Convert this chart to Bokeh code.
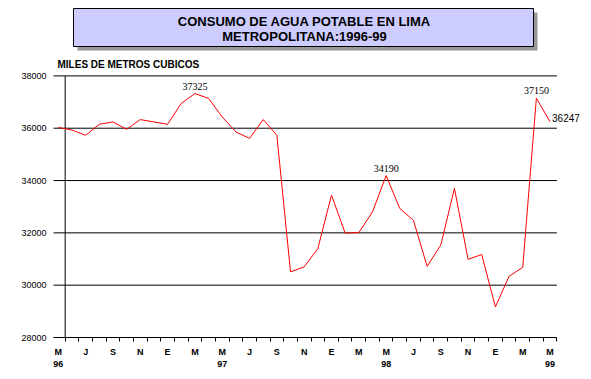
from bokeh.plotting import figure
from bokeh.models import FixedTicker, BoxAnnotation, Label, ColumnDataSource, LabelSet, Range1d
from bokeh.embed import file_html
from bokeh.resources import INLINE

# ---- data ----
month_initials = ["M", "J", "J", "A", "S", "O", "N", "D", "E", "F", "M", "A",
                  "M", "J", "J", "A", "S", "O", "N", "D", "E", "F", "M", "A",
                  "M", "J", "J", "A", "S", "O", "N", "D", "E", "F", "M", "A",
                  "M"]
years = ["96"] * 8 + ["97"] * 12 + ["98"] * 12 + ["99"] * 5
consumo = [36030, 35930, 35730, 36150, 36240, 35960, 36330, 36240, 36150, 36950,
           37325, 37140, 36430, 35860, 35610, 36330, 35730, 30510, 30700, 31400,
           33440, 31990, 32010, 32800, 34190, 32930, 32480, 30720, 31530, 33700,
           30990, 31170, 29170, 30340, 30680, 37150, 36247]
y_ticks = [28000, 30000, 32000, 34000, 36000, 38000]
y_tick_labels = ["28000", "30000", "32000", "34000", "36000", "38000"]
annot_idx = [10, 24, 35]
annot_text = ["37325", "34190", "37150"]
last_text = "36247"
title_lines = ["CONSUMO DE AGUA POTABLE EN LIMA", "METROPOLITANA:1996-99"]
y_title = "MILES DE METROS CUBICOS"

x = list(range(len(consumo)))
FONT = "Liberation Sans"
x_lo, x_hi = -0.5, len(consumo) - 0.5
y_lo, y_hi = y_ticks[0], y_ticks[-1]

W, H = 583, 371
p = figure(width=W, height=H, output_backend="svg", toolbar_location=None,
           x_range=Range1d(x_lo, 38.45), y_range=Range1d(y_lo, 40882),
           min_border_left=51, min_border_right=0, min_border_top=0, min_border_bottom=34,
           title=None)
p.outline_line_color = None
p.background_fill_color = "white"
p.border_fill_color = "white"
p.xgrid.visible = False
p.ygrid.visible = False

# horizontal gridlines (limited to the plotted months)
grid_start = x_lo + 0.15
p.segment(x0=[grid_start] * len(y_ticks), x1=[x_hi] * len(y_ticks), y0=y_ticks, y1=y_ticks,
          line_color="black", line_width=1)
# vertical axis line at the first month boundary
p.segment(x0=[0.5], x1=[0.5], y0=[y_lo], y1=[y_hi], line_color="black", line_width=1)

# data line
p.line(x, consumo, line_color="#FF0000", line_width=1)

# y axis
p.yaxis.ticker = FixedTicker(ticks=y_ticks)
p.yaxis.major_label_overrides = {t: l for t, l in zip(y_ticks, y_tick_labels)}
p.yaxis.axis_line_color = None
p.yaxis.major_tick_line_color = None
p.yaxis.minor_tick_line_color = None
p.yaxis.major_label_standoff = -1
p.yaxis.major_label_text_font = FONT
p.yaxis.major_label_text_font_size = "9px"
p.yaxis.major_label_text_color = "black"

# x axis
even = [i for i in x if i % 2 == 0]
labels = {}
for i in even:
    s = month_initials[i]
    if i % 12 == 0:
        s = s + "\n" + years[i]
    labels[i] = s
p.xaxis.ticker = FixedTicker(ticks=even, minor_ticks=[i + 0.5 for i in x])
p.xaxis.bounds = (grid_start, x_hi)
p.xaxis.major_label_overrides = labels
p.xaxis.axis_line_color = "black"
p.xaxis.major_tick_out = 0
p.xaxis.major_tick_in = 0
p.xaxis.minor_tick_out = 4
p.xaxis.minor_tick_in = 0
p.xaxis.minor_tick_line_color = "black"
p.xaxis.major_label_standoff = 5
p.xaxis.major_label_text_font = FONT
p.xaxis.major_label_text_font_size = "9px"
p.xaxis.major_label_text_font_style = "bold"
p.xaxis.major_label_text_color = "black"

# data labels
src = ColumnDataSource(dict(x=[x[i] for i in annot_idx], y=[consumo[i] for i in annot_idx], t=annot_text))
p.add_layout(LabelSet(x="x", y="y", text="t", source=src, text_align="center", text_baseline="bottom",
                      y_offset=4, text_font=FONT, text_font_size="10px", text_color="black"))
p.add_layout(Label(x=x[-1], y=consumo[-1], text=last_text, x_offset=2, y_offset=4, text_align="left",
                   text_baseline="middle", text_font=FONT, text_font_size="10px", text_color="black"))

# y title
p.add_layout(Label(x=57, y=64, x_units="canvas", y_units="canvas", text=y_title, text_align="left",
                   text_baseline="middle", text_font=FONT, text_font_size="10px", text_font_style="bold",
                   text_color="black"))

# title box with shadow
p.add_layout(BoxAnnotation(left=77, right=537, top=12, bottom=50, left_units="canvas", right_units="canvas",
                           top_units="canvas", bottom_units="canvas", fill_color="#999999", fill_alpha=1,
                           line_color=None))
p.add_layout(BoxAnnotation(left=73, right=533, top=8, bottom=46, left_units="canvas", right_units="canvas",
                           top_units="canvas", bottom_units="canvas", fill_color="#CCCCFF", fill_alpha=1,
                           line_color="black", line_width=1, line_alpha=1))
for k, t in enumerate(title_lines):
    p.add_layout(Label(x=304, y=21 + 14.5 * k, x_units="canvas", y_units="canvas", text=t,
                       text_align="center", text_baseline="middle", text_font=FONT,
                       text_font_size="13px", text_font_style="bold", text_color="black"))

open("out.html", "w").write(file_html(p, INLINE))
